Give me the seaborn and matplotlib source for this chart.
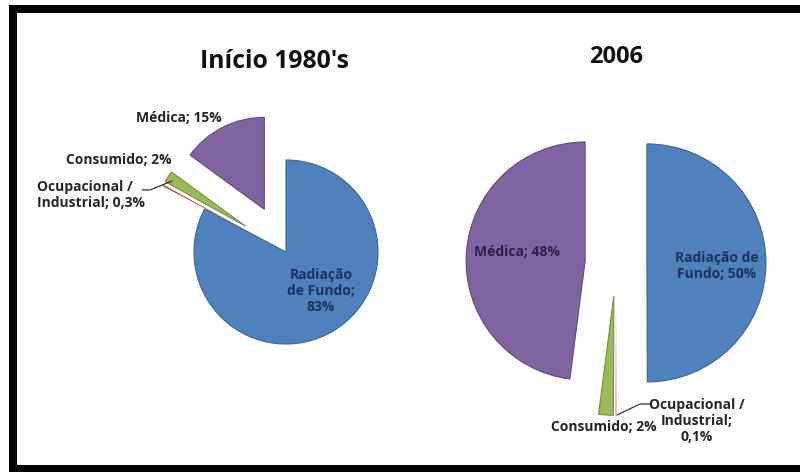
import matplotlib
matplotlib.use("Agg")
import matplotlib.pyplot as plt
from matplotlib.lines import Line2D
from matplotlib.patches import Rectangle
import seaborn as sns

# Sources of radiation exposure, share of the total dose (%)
categories = ["Radiação de Fundo", "Ocupacional / Industrial", "Consumido", "Médica"]
share_1980s = [83, 0.3, 2, 15]
share_2006 = [50, 0.1, 2, 48]
titles = ["Início 1980's", "2006"]

# label templates ({} receives the formatted percentage)
labels_1980s = ["Radiação\nde Fundo;\n{}", "Ocupacional /\nIndustrial; {}", "Consumido; {}", "Médica; {}"]
labels_2006 = ["Radiação de\nFundo; {}", "Ocupacional /\nIndustrial;\n{}", "Consumido; {}", "Médica; {}"]

sns.set_theme(style="white")
plt.rcParams["font.family"] = ["Open Sans", "DejaVu Sans"]

colors = ["#4F81BD", "#C0504D", "#9BBB59", "#8064A2"]
edges = ["#3A6496", "#C0504D", "#76923C", "#5F4A7B"]
edge_widths = [0.8, 0.0, 0.8, 0.8]

W, H = 800, 472
fig = plt.figure(figsize=(W / 100, H / 100), dpi=100)
fig.patch.set_facecolor("white")


def fx(x):
    return x / W


def fy(y):
    return 1 - y / H


def pie_axes(cx, cy, r, half=2.0):
    """Square axes whose data unit equals r pixels, centred at (cx, cy) px."""
    size = 2 * half * r
    ax = fig.add_axes([(cx - size / 2) / W, (H - cy - size / 2) / H, size / W, size / H])
    return ax, half


def pct(v):
    return f"{v:g}".replace(".", ",") + "%"


def draw_pie(ax, half, values, explode):
    ax.pie(values, colors=colors, startangle=90, counterclock=False,
           explode=explode)
    for w, ec, lw in zip(ax.patches, edges, edge_widths):
        w.set_edgecolor(ec)
        w.set_linewidth(lw)
    ax.set_xlim(-half, half)
    ax.set_ylim(-half, half)
    ax.set_aspect("equal")
    ax.axis("off")


# --- left pie: early 1980s
ax1, h1 = pie_axes(286, 252, 92, 2.0)
draw_pie(ax1, h1, share_1980s, [0, 0.52, 0.52, 0.52])

# --- right pie: 2006
ax2, h2 = pie_axes(616, 263, 119, 1.6)
draw_pie(ax2, h2, share_2006, [0.26, 0.28, 0.28, 0.26])

# titles
fig.text(fx(274), fy(62), titles[0], ha="center", va="center",
         fontsize=17.8, fontweight="bold", color="#111111")
fig.text(fx(616), fy(57), titles[1], ha="center", va="center",
         fontsize=17, fontweight="bold", color="#111111")

outer = "#262626"
inner_blue = "#1C325A"
inner_purple = "#2E1F4A"
lab_kw = dict(fontsize=10, fontweight="bold", linespacing=1.15)

# labels, 1980s
L = [t.format(pct(v)) for t, v in zip(labels_1980s, share_1980s)]
fig.text(fx(321), fy(291), L[0], ha="center", va="center", color=inner_blue, **lab_kw)
fig.text(fx(37), fy(195), L[1], ha="left", va="center", color=outer, **lab_kw)
fig.text(fx(172), fy(160), L[2], ha="right", va="center", color=outer, **lab_kw)
fig.text(fx(179), fy(118), L[3], ha="center", va="center", color=outer, **lab_kw)

# labels, 2006
L = [t.format(pct(v)) for t, v in zip(labels_2006, share_2006)]
fig.text(fx(717), fy(266), L[0], ha="center", va="center", color=inner_blue, **lab_kw)
fig.text(fx(697), fy(421), L[1], ha="center", va="center", color=outer, **lab_kw)
fig.text(fx(604), fy(427), L[2], ha="center", va="center", color=outer, **lab_kw)
fig.text(fx(517), fy(252), L[3], ha="center", va="center", color=inner_purple, **lab_kw)

# leader lines for the tiny slices
fig.add_artist(Line2D([fx(142), fx(150), fx(172)], [fy(190), fy(190), fy(181)],
                      color="#333333", lw=0.9))
fig.add_artist(Line2D([fx(617), fx(640), fx(650)], [fy(415), fy(404), fy(404)],
                      color="#333333", lw=0.9))

# black frame (open on the right)
fig.add_artist(Rectangle((fx(9), fy(472)), fx(8), fy(5) - fy(472), color="black", lw=0))
fig.add_artist(Rectangle((fx(9), fy(13)), 1 - fx(9), fy(5) - fy(13), color="black", lw=0))
fig.add_artist(Rectangle((fx(9), fy(472)), 1 - fx(9), fy(465) - fy(472), color="black", lw=0))

fig.savefig("out.png", dpi=100, facecolor="white")
